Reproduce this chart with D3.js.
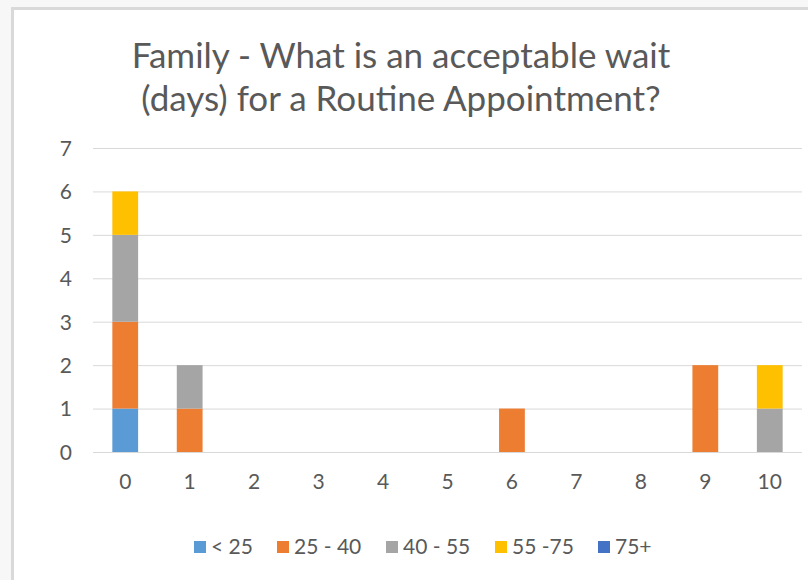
<!DOCTYPE html>
<html><head><meta charset="utf-8">
<script src="https://cdn.jsdelivr.net/npm/d3@7"></script>
<style>
body{margin:0;background:#f7f7f7;}
svg{display:block;}
text{font-family:Lato, "Open Sans", sans-serif;fill:#595959;}
</style></head>
<body>
<svg id="chart" width="808" height="580"></svg>
<script>
const categories = ["0","1","2","3","4","5","6","7","8","9","10"];
const seriesNames = ["< 25","25 - 40","40 - 55","55 -75","75+"];
const lt25  = [1,0,0,0,0,0,0,0,0,0,0];
const s25_40 = [2,1,0,0,0,0,1,0,0,2,0];
const s40_55 = [2,1,0,0,0,0,0,0,0,0,1];
const s55_75 = [1,0,0,0,0,0,0,0,0,0,1];
const s75p  = [0,0,0,0,0,0,0,0,0,0,0];
const colors = ["#5B9BD5","#ED7D31","#A5A5A5","#FFC000","#4472C4"];
const yTicks = [0,1,2,3,4,5,6,7];
const titleLines = ["Family - What is an acceptable wait","(days) for a Routine Appointment?"];

const seriesVals = [lt25,s25_40,s40_55,s55_75,s75p];
const rows = categories.map((c,i)=>{const r={cat:c};seriesNames.forEach((s,j)=>r[s]=seriesVals[j][i]);return r;});

const svg = d3.select("#chart");
svg.append("rect").attr("x",12.5).attr("y",8.5).attr("width",808).attr("height",580)
  .attr("fill","#fff").attr("stroke","#d9d9d9").attr("stroke-width",3);

const m = {left:93,right:802,top:148,bottom:452};
const x = d3.scaleBand().domain(categories).range([m.left,m.right]).paddingInner(0.6).paddingOuter(0.3);
const y = d3.scaleLinear().domain([0,7]).range([m.bottom,m.top]);

svg.append("text").attr("text-anchor","middle").style("font-size","35px")
  .selectAll("tspan").data(titleLines).join("tspan")
  .attr("x",401).attr("y",(d,i)=>68+i*43).text(d=>d);

const ya = d3.axisLeft(y).tickValues(yTicks).tickFormat(d3.format("d")).tickSize(-(m.right-m.left)).tickPadding(21);
const gy = svg.append("g").attr("transform",`translate(${m.left},0)`).call(ya);
gy.select(".domain").remove();
gy.selectAll(".tick line").attr("stroke","#d9d9d9").attr("stroke-width",1);
gy.selectAll(".tick text").style("font-size","21px").attr("fill","#595959").attr("dy","0.35em");

const xa = d3.axisBottom(x).tickSize(0).tickPadding(22);
const gx = svg.append("g").attr("transform",`translate(0,${m.bottom})`).call(xa);
gx.select(".domain").remove();
gx.selectAll(".tick text").style("font-size","21px").attr("fill","#595959");

const stack = d3.stack().keys(seriesNames)(rows);
svg.append("g").selectAll("g").data(stack).join("g").attr("fill",(d,i)=>colors[i])
  .selectAll("rect").data(d=>d).join("rect")
  .attr("x",d=>x(d.data.cat)).attr("width",x.bandwidth())
  .attr("y",d=>y(d[1])).attr("height",d=>y(d[0])-y(d[1]));

const legX = [194,277,386,495,598];
const lg = svg.append("g").selectAll("g").data(seriesNames).join("g")
  .attr("transform",(d,i)=>`translate(${legX[i]},541)`);
lg.append("rect").attr("width",12).attr("height",12).attr("fill",(d,i)=>colors[i]);
lg.append("text").attr("x",17).attr("y",6).attr("dy","0.35em").style("font-size","21px").text(d=>d);
</script>
</body></html>
